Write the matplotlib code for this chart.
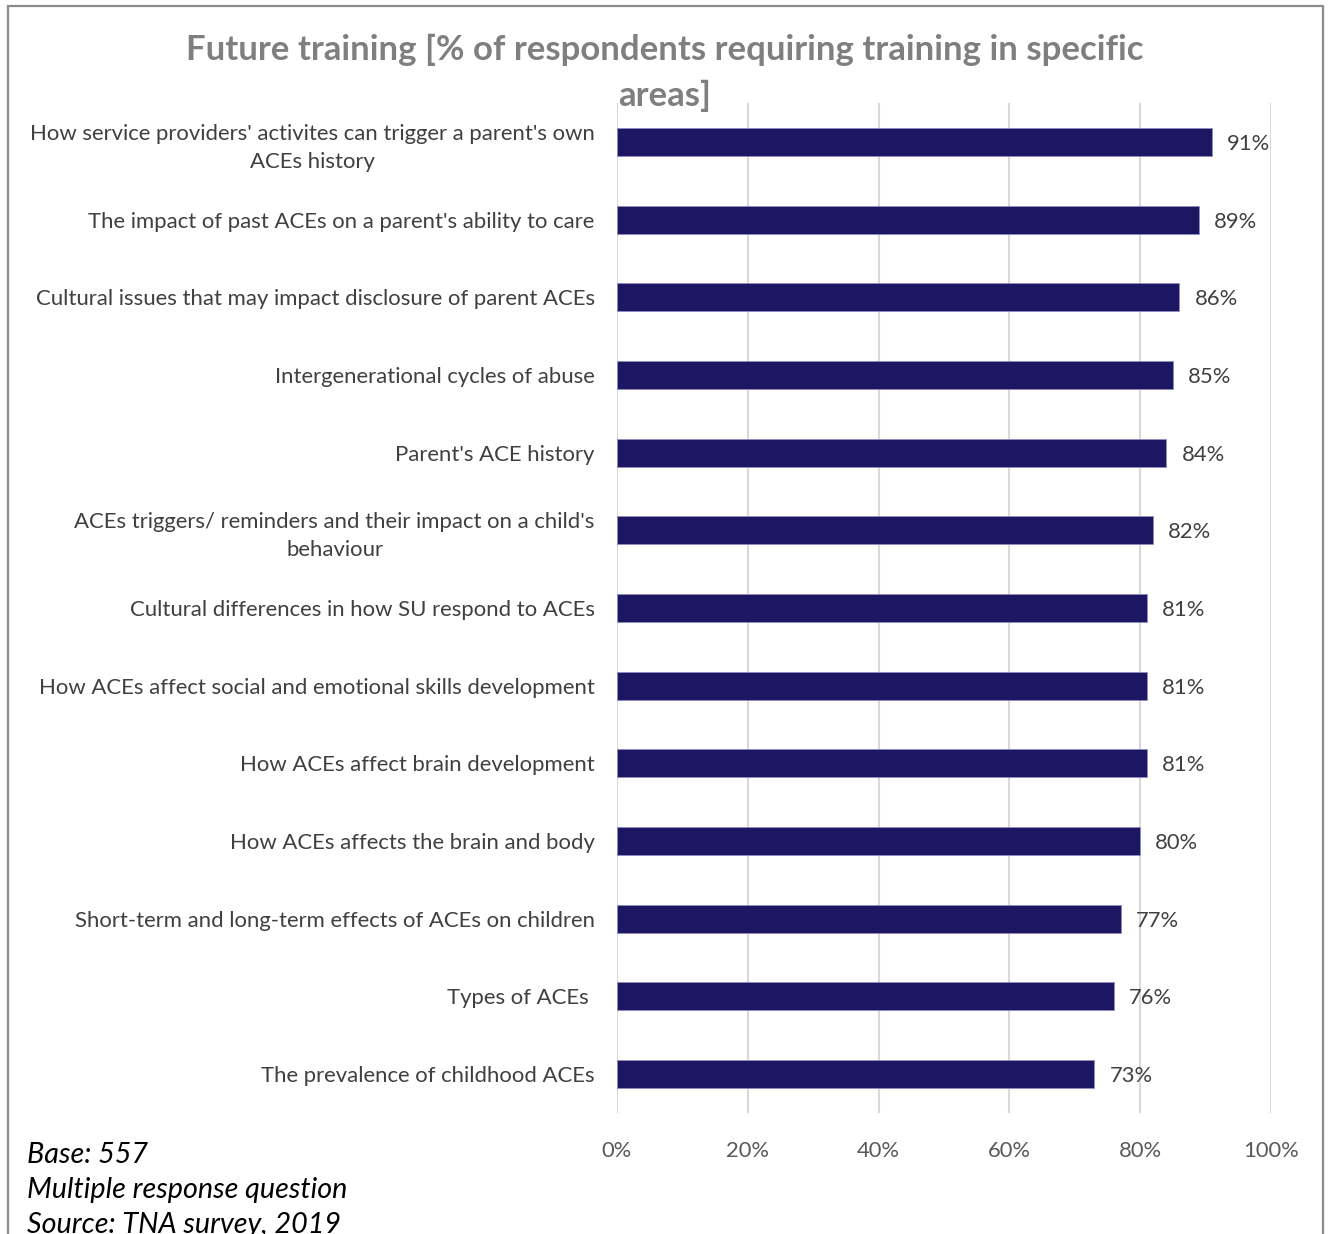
import matplotlib.pyplot as plt
from matplotlib.patches import Rectangle

# training areas, top to bottom, with share of respondents (%)
areas = [
    "How service providers' activites can trigger a parent's own\nACEs history",
    "The impact of past ACEs on a parent's ability to care",
    "Cultural issues that may impact disclosure of parent ACEs",
    "Intergenerational cycles of abuse",
    "Parent's ACE history",
    "ACEs triggers/ reminders and their impact on a child's\nbehaviour",
    "Cultural differences in how SU respond to ACEs",
    "How ACEs affect social and emotional skills development",
    "How ACEs affect brain development",
    "How ACEs affects the brain and body",
    "Short-term and long-term effects of ACEs on children",
    "Types of ACEs ",
    "The prevalence of childhood ACEs",
]
pct = [91, 89, 86, 85, 84, 82, 81, 81, 81, 80, 77, 76, 73]
xticks = [0, 20, 40, 60, 80, 100]
notes = ["Base: 557", "Multiple response question", "Source: TNA survey, 2019"]

plt.rcParams['font.family'] = ['Lato', 'DejaVu Sans']

fig = plt.figure(figsize=(13.3, 12.34), dpi=100)
W, H = 1330, 1234

# outer frame, bottom runs off the page
fig.patches.append(Rectangle((8 / W, -0.05), (1323 - 8) / W, (1234 - 6) / H + 0.05,
                             transform=fig.transFigure, fill=False,
                             edgecolor='#8c8c8c', linewidth=1.6))

ax = fig.add_axes([617 / W, 1 - 1113 / H, (1271 - 617) / W, (1113 - 103) / H])
y = list(range(len(areas)))
ax.barh(y, pct, height=0.36, color='#1d1763', edgecolor='#8f8cc0', linewidth=0.6, zorder=3)
ax.set_ylim(len(areas) - 0.5, -0.5)
ax.set_xlim(0, 100)

for yi, v in zip(y, pct):
    ax.text(v + 2.3, yi, f"{v}%", va='center_baseline', ha='left', fontsize=15.8,
            color='#404040')

ax.set_xticks(xticks)
ax.set_xticklabels([f"{t}%" for t in xticks], fontsize=15.8, color='#595959')
ax.set_yticks(y)
ax.set_yticklabels(areas, fontsize=15.9, color='#404040')
for lab in ax.get_yticklabels():
    lab.set_multialignment('center')
    lab.set_linespacing(1.5)
    lab.set_verticalalignment('center_baseline')
ax.tick_params(axis='y', length=0, pad=16)
ax.tick_params(axis='x', length=0, pad=20)
ax.grid(axis='x', color='#d9d9d9', linewidth=1.5, zorder=0)
for s in ax.spines.values():
    s.set_visible(False)

fig.text(665 / W, 1 - 73 / H,
         "Future training [% of respondents requiring training in specific\nareas]",
         ha='center', va='center', fontsize=25, fontweight='bold', color='#7f7f7f',
         linespacing=1.55)

for i, n in enumerate(notes):
    fig.text(27 / W, 1 - (1155 + 35 * i) / H, n, ha='left', va='center',
             fontsize=20.7, style='italic', color='#000000')

fig.savefig('out.png', dpi=100)
